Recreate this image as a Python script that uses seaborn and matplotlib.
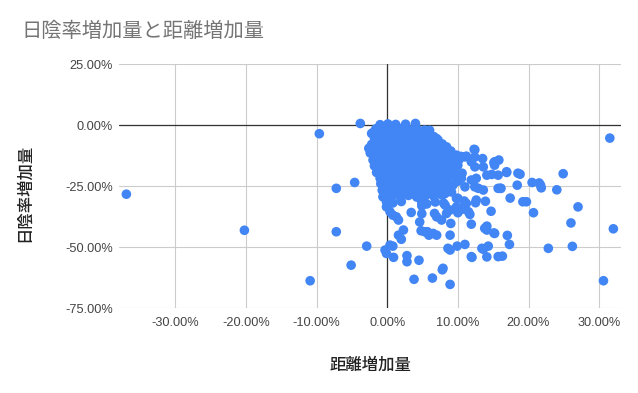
import matplotlib

matplotlib.use("Agg")

import matplotlib.pyplot as plt
import pandas as pd
import seaborn as sns

TITLE = "日陰率増加量と距離増加量"
X_LABEL = "距離増加量"
Y_LABEL = "日陰率増加量"

X_TICKS = [-30, -20, -10, 0, 10, 20, 30]
X_TICK_LABELS = ["-30.00%", "-20.00%", "-10.00%", "0.00%", "10.00%", "20.00%", "30.00%"]
Y_TICKS = [-75, -50, -25, 0, 25]
Y_TICK_LABELS = ["-75.00%", "-50.00%", "-25.00%", "0.00%", "25.00%"]

# (距離増加量 %, 日陰率増加量 %), dense core row by row
core_points = [
    (-1.0, 0.3), (0.1, 0.6), (1.2, 0.4), (2.6, 0.5), (4.0, 0.8),
    (-1.6, -1.4), (-0.5, -1.2), (0.6, -1.6), (1.8, -1.3), (3.0, -1.7), (4.2, -1.4), (5.3, -1.9), (6.0, -2.0),
    (-1.9, -2.7), (-0.8, -2.9), (0.3, -2.6), (1.4, -2.8), (2.5, -2.5), (3.6, -2.9), (4.8, -2.7), (5.9, -3.0),
    (-2.2, -3.3), (-1.1, -4.1), (0.0, -3.8), (1.0, -4.3), (2.1, -3.9), (3.3, -4.2), (4.4, -3.7), (5.5, -4.4),
    (6.6, -4.6),
    (-1.8, -5.3), (-0.7, -5.1), (0.4, -5.5), (1.5, -5.2), (2.6, -5.4), (3.7, -5.0), (4.8, -5.6), (5.9, -5.2),
    (7.0, -5.4),
    (-1.5, -6.4), (-0.4, -6.8), (0.7, -6.2), (1.8, -6.9), (2.9, -6.5), (4.0, -6.3), (5.1, -6.7), (6.2, -6.6),
    (7.2, -6.0),
    (-2.2, -7.8), (-1.0, -7.6), (0.1, -8.0), (1.2, -7.7), (2.3, -7.9), (3.4, -7.5), (4.5, -8.1), (5.6, -7.7),
    (6.7, -7.9), (7.8, -7.6),
    (-2.6, -9.4), (-1.6, -8.7), (-0.5, -9.2), (0.5, -8.9), (1.6, -9.3), (2.7, -8.8), (3.8, -9.1), (4.9, -9.4),
    (6.0, -8.9), (7.1, -9.2), (8.4, -8.8),
    (-2.0, -10.3), (-0.9, -10.5), (0.2, -10.1), (1.3, -10.4), (2.4, -10.2), (3.5, -10.6), (4.6, -10.3),
    (5.7, -10.0), (6.8, -10.4), (7.9, -10.2), (9.0, -10.5),
    (-2.4, -11.3), (-1.3, -11.8), (-0.2, -11.4), (0.9, -11.7), (2.0, -11.2), (3.1, -11.9), (4.2, -11.5),
    (5.3, -11.3), (6.4, -11.8), (7.5, -11.4), (8.6, -11.9), (9.8, -12.2), (11.0, -12.9), (12.3, -9.8),
    (11.2, -12.6),
    (-1.7, -12.8), (-0.6, -13.0), (0.5, -12.7), (1.6, -12.9), (2.7, -12.6), (3.8, -13.1), (4.9, -12.8),
    (6.0, -12.7), (7.1, -13.0), (8.2, -12.8), (9.3, -13.1), (10.4, -12.7),
    (-2.0, -14.2), (-1.0, -13.8), (0.3, -14.3), (1.4, -13.9), (2.5, -14.4), (3.6, -14.0), (4.7, -14.2),
    (5.8, -13.7), (6.9, -14.3), (8.0, -14.0), (9.1, -14.4), (10.2, -13.9), (11.9, -14.9), (13.5, -13.6),
    (15.2, -14.9), (15.8, -14.2), (12.4, -13.0),
    (-1.4, -15.3), (-0.3, -15.1), (0.8, -15.5), (1.9, -15.2), (3.0, -15.4), (4.1, -15.0), (5.2, -15.6),
    (6.3, -15.2), (7.4, -15.4), (8.5, -15.1), (9.6, -15.5),
    (-1.8, -16.6), (0.0, -16.9), (1.1, -16.4), (2.2, -16.8), (3.3, -16.3), (4.4, -16.7), (5.5, -16.5),
    (6.6, -16.9), (7.7, -16.4), (8.8, -16.8), (10.0, -16.3), (12.4, -17.0), (13.6, -17.0), (15.2, -16.3),
    (-1.2, -17.8), (0.5, -18.0), (1.6, -17.7), (2.7, -17.9), (3.8, -17.6), (4.9, -18.1), (6.0, -17.8),
    (7.1, -17.6), (8.2, -18.0), (9.3, -17.7),
    (-1.5, -19.3), (-0.4, -18.9), (0.7, -19.4), (1.8, -18.8), (2.9, -19.2), (4.0, -19.5), (5.1, -18.9),
    (6.2, -19.3), (7.3, -19.1), (8.4, -18.7), (9.5, -19.4), (10.6, -19.6), (14.1, -20.4), (15.7, -20.4),
    (16.9, -19.3),
    (-0.8, -20.3), (0.4, -20.5), (1.5, -20.2), (2.6, -20.6), (3.7, -20.3), (4.8, -20.1), (5.9, -20.5),
    (7.0, -20.2), (8.1, -20.6), (9.6, -20.4),
    (-1.0, -21.7), (0.0, -21.3), (1.1, -21.8), (2.2, -21.4), (3.3, -21.9), (4.4, -21.2), (5.5, -21.6),
    (6.6, -21.8), (7.7, -21.3), (8.9, -21.0), (10.5, -21.7), (11.9, -22.4), (12.6, -21.7), (14.8, -20.1),
    (-0.5, -22.8), (0.6, -23.0), (1.7, -22.7), (2.8, -23.1), (3.9, -22.8), (5.0, -22.6), (6.1, -23.0),
    (7.2, -22.7), (8.4, -23.1), (10.0, -22.9),
    (-0.9, -23.9), (0.2, -24.3), (1.3, -23.8), (2.4, -24.4), (3.5, -24.0), (4.6, -24.2), (5.7, -23.7),
    (6.8, -24.3), (8.0, -24.1), (9.3, -24.5), (11.0, -25.2), (12.4, -25.2), (12.9, -25.8), (13.6, -26.5),
    (15.7, -25.8), (16.1, -25.8),
    (-0.3, -25.3), (0.9, -25.5), (2.0, -25.2), (3.1, -25.6), (4.2, -25.3), (5.3, -25.1), (6.4, -25.5),
    (7.5, -25.2), (8.6, -25.6),
    (-0.7, -26.6), (0.4, -26.2), (1.5, -26.8), (2.6, -26.4), (3.7, -26.9), (4.8, -26.3), (5.9, -26.7),
    (7.0, -26.2), (8.1, -26.8), (9.1, -27.3),
    (0.0, -27.8), (1.1, -28.0), (2.3, -27.7), (3.4, -28.1), (4.6, -27.8), (5.8, -27.6), (7.0, -28.0),
    (8.2, -27.9),
    (-0.6, -29.3), (0.6, -28.8), (1.8, -29.2), (3.0, -28.7), (4.2, -29.4), (5.4, -28.9), (6.6, -29.1),
    (7.8, -28.6), (10.0, -29.9),
    (-0.1, -31.3), (0.8, -31.8), (2.0, -31.2), (4.9, -31.6), (5.6, -32.2), (6.8, -31.4), (8.0, -31.9),
    (11.2, -32.0), (12.6, -30.6), (10.9, -31.0), (12.5, -31.7), (13.9, -31.1),
]

# scattered points around and outside the core
tail_points = [
    (-36.9, -28.2), (-20.2, -43.0), (-9.6, -3.4), (-7.2, -25.8), (-7.2, -43.6), (-4.6, -23.4),
    (-5.1, -57.3), (-10.9, -63.7), (-3.8, 0.8), (-2.9, -49.5),
    (31.5, -5.2), (32.0, -42.4), (30.6, -63.7), (27.0, -33.4), (26.0, -40.0), (26.2, -49.6),
    (22.8, -50.4), (24.9, -19.8), (24.0, -26.4), (21.8, -25.6), (21.5, -23.6), (20.5, -23.4),
    (20.7, -35.8), (18.8, -20.0), (18.5, -19.6), (18.4, -24.5), (19.2, -31.3), (19.7, -31.3),
    (17.4, -29.8), (16.9, -19.0), (16.0, -25.8), (15.1, -15.3), (14.7, -35.2), (15.1, -44.1),
    (17.0, -45.1), (17.3, -48.8), (16.3, -53.6), (14.1, -53.9), (14.3, -49.5), (13.6, -50.8),
    (13.8, -42.2), (14.1, -41.3), (12.0, -54.1), (11.0, -48.8), (9.9, -49.5), (8.6, -50.4),
    (8.9, -65.2), (7.8, -59.2), (6.4, -62.6), (3.8, -63.1), (4.5, -55.3), (2.8, -55.9), (2.8, -53.4),
    (0.9, -54.1), (-0.1, -52.5), (-0.3, -51.1), (0.4, -49.1), (0.8, -49.5), (2.0, -46.7), (2.3, -42.9),
    (1.6, -45.0), (4.8, -43.2), (5.9, -45.0), (6.5, -44.3), (5.7, -43.6), (7.0, -45.0), (8.9, -45.0),
    (9.0, -40.2), (11.9, -40.5), (11.7, -36.5), (10.0, -35.8), (11.0, -32.3), (9.8, -29.9),
    (12.4, -10.0), (3.4, -35.7), (4.6, -39.6), (7.0, -37.5), (7.7, -38.8), (8.4, -36.1), (6.7, -36.1),
    (1.6, -38.8), (0.8, -36.8), (1.3, -37.5), (-0.1, -33.4), (0.4, -35.4), (8.2, -32.7), (8.9, -34.7),
    (9.8, -33.4), (10.6, -34.4), (11.5, -35.4), (4.9, -30.0), (4.9, -33.0), (4.9, -36.2), (5.3, -43.6),
    (13.4, -50.4), (15.7, -53.8), (11.9, -53.8), (15.2, -44.3), (14.1, -42.9), (7.9, -58.6),
    (8.9, -51.1), (21.7, -24.5),
]

df = pd.DataFrame(core_points + tail_points, columns=["distance", "shade"])

sns.set_style("white")
plt.rcParams["font.family"] = ["Liberation Sans", "Noto Sans CJK JP", "DejaVu Sans"]
cjk = ["Noto Sans CJK JP", "DejaVu Sans"]

fig = plt.figure(figsize=(6.38, 3.93), dpi=100)
ax = fig.add_axes([0.187, 0.2155, 0.786, 0.6205])

ax.set_xticks(X_TICKS)
ax.set_xticklabels(X_TICK_LABELS)
ax.set_yticks(Y_TICKS)
ax.set_yticklabels(Y_TICK_LABELS)
ax.grid(True, color="#cccccc", linewidth=0.8)
ax.set_axisbelow(True)
ax.axhline(0, color="#333333", linewidth=0.9, zorder=1)
ax.axvline(0, color="#333333", linewidth=0.9, zorder=1)

sns.scatterplot(data=df, x="distance", y="shade", color="#4285F4", s=48,
                edgecolor="none", linewidth=0, ax=ax, zorder=3)

ax.set_xlim(-37.9, 33.05)
ax.set_ylim(-75, 25)
ax.set_xlabel("")
ax.set_ylabel("")
for side in ax.spines.values():
    side.set_visible(False)
ax.tick_params(axis="x", length=0, pad=6.5, labelsize=9.2, labelcolor="#444444")
ax.tick_params(axis="y", length=0, pad=4.5, labelsize=9.2, labelcolor="#444444")

fig.text(0.034, 0.919, TITLE, family=cjk, fontsize=14.6, color="#757575", va="center", ha="left")
fig.text(0.58, 0.0695, X_LABEL, family=cjk, fontsize=11.8, color="#222222",
         weight="medium", va="center", ha="center")
fig.text(0.039, 0.508, Y_LABEL, family=cjk, fontsize=11.8, color="#222222",
         weight="medium", va="center", ha="center", rotation=90)

fig.savefig("out.png", dpi=100)
